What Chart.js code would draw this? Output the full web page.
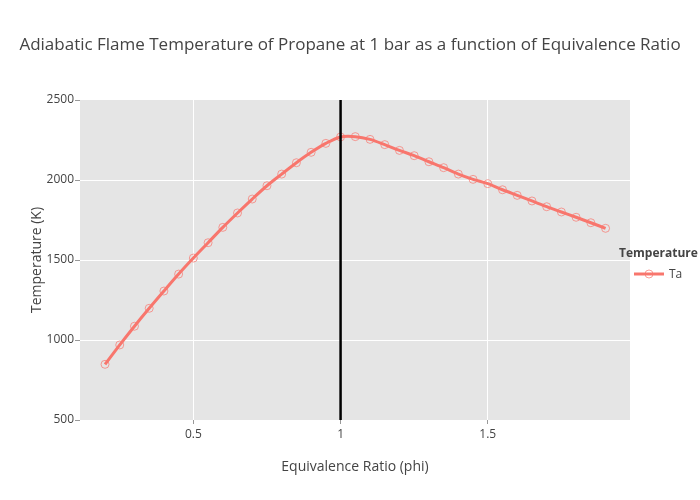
<!DOCTYPE html>
<html>
<head>
<meta charset="utf-8">
<script src="https://cdn.jsdelivr.net/npm/chart.js@4"></script>
<style>
  body { margin: 0; background: #fff; }
  #wrap { width: 700px; height: 500px; }
</style>
</head>
<body>
<div id="wrap"><canvas id="myChart" width="700" height="500"></canvas></div>
<script>
// Equivalence ratio (phi) and adiabatic flame temperature (K)
const phi = [0.2, 0.25, 0.3, 0.35, 0.4, 0.45, 0.5, 0.55, 0.6, 0.65, 0.7, 0.75, 0.8, 0.85, 0.9, 0.95,
  1.0, 1.05, 1.1, 1.15, 1.2, 1.25, 1.3, 1.35, 1.4, 1.45, 1.5, 1.55, 1.6, 1.65, 1.7, 1.75, 1.8, 1.85, 1.9];
const tempK = [848, 969, 1086, 1198, 1306, 1412, 1512, 1608, 1704, 1794, 1881, 1964, 2037, 2108, 2173, 2229,
  2269, 2271, 2254, 2221, 2185, 2152, 2114, 2077, 2037, 2004, 1977, 1939, 1904, 1869, 1833, 1800, 1767, 1733, 1698];
const xTicks = [0.5, 1, 1.5];
const yTicks = [500, 1000, 1500, 2000, 2500];
const stoichLine = { x: [1, 1], y: [500, 2500] };

const red = 'rgb(248, 118, 109)';
const titleText = 'Adiabatic Flame Temperature of Propane at 1 bar as a function of Equivalence Ratio';

// grey plot background + title + legend
const plotlyLook = {
  id: 'plotlyLook',
  beforeDraw(chart) {
    const { ctx, chartArea } = chart;
    ctx.save();
    ctx.fillStyle = '#e5e5e5';
    ctx.fillRect(chartArea.left, chartArea.top, chartArea.right - chartArea.left, chartArea.bottom - chartArea.top);
    ctx.restore();
  },
  afterDraw(chart) {
    const ctx = chart.ctx;
    ctx.save();
    ctx.fillStyle = '#444';
    ctx.textBaseline = 'middle';
    ctx.textAlign = 'center';
    ctx.font = '17px "Open Sans"';
    ctx.fillText(titleText, 350, 45);

    // legend
    ctx.textAlign = 'left';
    ctx.font = 'bold 12px "Open Sans"';
    ctx.fillText('Temperature', 619, 254);
    ctx.font = '12px "Open Sans"';
    ctx.fillText(chart.data.datasets[1].label, 669, 275);
    ctx.strokeStyle = red;
    ctx.lineWidth = 3;
    ctx.beginPath();
    ctx.moveTo(634, 274);
    ctx.lineTo(664, 274);
    ctx.stroke();
    ctx.lineWidth = 1;
    ctx.strokeStyle = 'rgba(248, 118, 109, 0.7)';
    ctx.beginPath();
    ctx.arc(649, 274, 4, 0, Math.PI * 2);
    ctx.stroke();
    ctx.restore();
  }
};

const ctx1 = document.getElementById('myChart').getContext('2d');
new Chart(ctx1, {
  type: 'line',
  data: {
    datasets: [
      {
        label: 'phi = 1',
        data: stoichLine.x.map((x, i) => ({ x: x, y: stoichLine.y[i] })),
        borderColor: '#000',
        borderWidth: 2.5,
        pointRadius: 0,
        order: 0
      },
      {
        label: 'Ta',
        data: phi.map((p, i) => ({ x: p, y: tempK[i] })),
        borderColor: red,
        borderWidth: 3,
        tension: 0.3,
        pointRadius: 4,
        pointBorderWidth: 1,
        pointBorderColor: 'rgba(248, 118, 109, 0.7)',
        pointBackgroundColor: 'rgba(0, 0, 0, 0)',
        order: 1
      }
    ]
  },
  options: {
    responsive: false,
    animation: false,
    layout: { padding: { left: 0, right: 70, top: 100, bottom: 0 } },
    plugins: {
      legend: { display: false },
      title: { display: false },
      tooltip: { enabled: false }
    },
    scales: {
      x: {
        type: 'linear',
        min: 0.115,
        max: 1.983,
        afterBuildTicks: s => { s.ticks = xTicks.map(v => ({ value: v })); },
        afterFit: s => { s.height = 80; },
        border: { display: false },
        grid: { color: '#fff', lineWidth: 1, tickLength: 4, tickColor: '#999' },
        ticks: {
          color: '#444',
          padding: 3,
          font: { family: 'Open Sans', size: 12 },
          callback: v => String(v)
        },
        title: {
          display: true,
          text: 'Equivalence Ratio (phi)',
          color: '#444',
          font: { family: 'Open Sans', size: 14 },
          padding: { top: 0, bottom: 25 }
        }
      },
      y: {
        min: 500,
        max: 2500,
        afterBuildTicks: s => { s.ticks = yTicks.map(v => ({ value: v })); },
        afterFit: s => { s.width = 80; },
        border: { display: false },
        grid: {
          color: c => (c.tick && (c.tick.value === 500 || c.tick.value === 2500)) ? 'rgba(0,0,0,0)' : '#fff',
          lineWidth: 1,
          tickLength: 5,
          tickColor: '#999'
        },
        ticks: {
          color: '#444',
          padding: 1,
          font: { family: 'Open Sans', size: 12 },
          callback: v => String(v)
        },
        title: {
          display: true,
          text: 'Temperature (K)',
          color: '#444',
          font: { family: 'Open Sans', size: 14 },
          padding: { top: 29, bottom: 0 }
        }
      }
    }
  },
  plugins: [plotlyLook]
});
</script>
</body>
</html>
